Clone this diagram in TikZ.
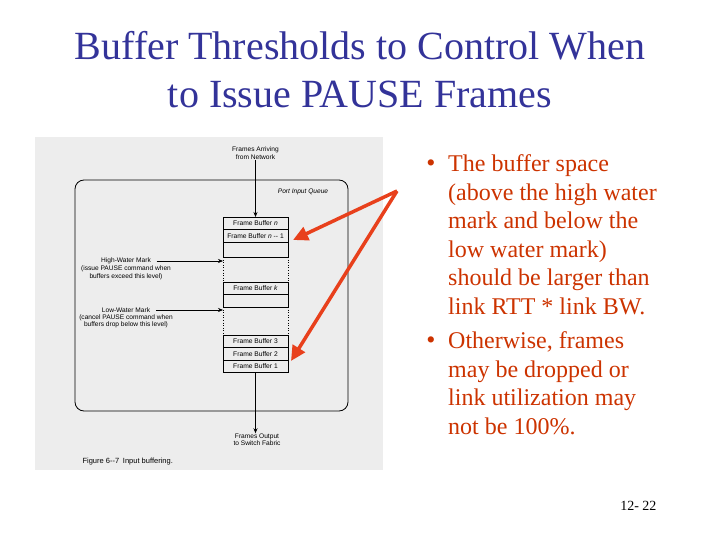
\documentclass[tikz,border=0pt]{standalone}
\usepackage{fontspec}
\setmainfont{Liberation Serif}
\newfontfamily\figsans{Liberation Sans}
\usetikzlibrary{arrows.meta,positioning}
\definecolor{titleblue}{HTML}{333399}
\definecolor{bullred}{HTML}{CC3300}
\definecolor{arrred}{HTML}{E8401C}
\definecolor{scangray}{HTML}{EDEDED}

\begin{document}
\begin{tikzpicture}[x=1pt, y=-1pt,
  buf/.style={draw, line width=0.5pt, minimum width=65pt, minimum height=12.5pt, anchor=north west,
    inner sep=0pt, outer sep=0pt, font=\figsans\fontsize{6.7}{7}\selectfont},
  lbl/.style={align=center, inner sep=0.5pt, font=\figsans\fontsize{6.6}{7.4}\selectfont},
  flow/.style={-{Stealth[length=5pt,width=4pt]}, line width=0.6pt},
  hint/.style={-{Triangle[length=15pt,width=14pt]}, line width=3.5pt, arrred},
  pts/.style={anchor=north west, inner sep=0pt, align=left, text=bullred, font=\fontsize{24}{28.6}\selectfont}]
  \useasboundingbox (0,0) rectangle (720,540);

  % title
  \node[anchor=base, font=\fontsize{40}{48}\selectfont, text=titleblue] (title1) at (360,60) {Buffer Thresholds to Control When};
  \node[anchor=base, font=\fontsize{40}{48}\selectfont, text=titleblue] (title2) at (360,108) {to Issue PAUSE Frames};

  % scanned figure
  \fill[scangray] (35,137) rectangle (383,470);
  \draw[line width=0.8pt, rounded corners=9pt] (75,180) rectangle (348,411);
  \node[lbl] (arrive) at (255.5,153) {Frames Arriving\\from Network};
  \node[lbl, font=\figsans\itshape\fontsize{6.6}{7.4}\selectfont] (queue) at (303,192) {Port Input Queue};

  \node[buf] (bn)  at (223,217)   {Frame Buffer \textit{n}};
  \node[buf] (bn1) at (223,229.5) {Frame Buffer \textit{n} -- 1};
  \node[buf, minimum height=15pt] (be1) at (223,242) {};
  \node[buf] (bk)  at (223,282)   {Frame Buffer \textit{k}};
  \node[buf] (be2) at (223,294.5) {};
  \node[buf] (b3)  at (223,335)   {Frame Buffer 3};
  \node[buf] (b2)  at (223,347.5) {Frame Buffer 2};
  \node[buf] (b1)  at (223,360)   {Frame Buffer 1};
  \draw[dotted, line width=0.6pt] (be1.south west) -- (bk.north west) (be1.south east) -- (bk.north east);
  \draw[dotted, line width=0.6pt] (be2.south west) -- (b3.north west) (be2.south east) -- (b3.north east);

  \node[lbl] (hwm) at (126,261) {High-Water Mark};
  \node[lbl, below=0.5pt of hwm] (hwmnote) {(issue PAUSE command when\\buffers exceed this level)};
  \node[lbl] (lwm) at (126,310) {Low-Water Mark};
  \node[lbl, below=0.5pt of lwm] (lwmnote) {(cancel PAUSE command when\\buffers drop below this level)};
  \node[lbl] (outp) at (257,440) {Frames Output\\to Switch Fabric};

  \draw[flow] (arrive.south) -- (bn.north);
  \draw[flow, shorten <=5pt] (hwm.east) -- (hwm.east -| bn.west);
  \draw[flow, shorten <=5pt] (lwm.east) -- (lwm.east -| bn.west);
  \draw[flow] (b1.south) -- (b1.south |- outp.north);

  \node[anchor=base west, font=\figsans\fontsize{7.5}{9}\selectfont] (cap) at (79,463) {Figure 6--7\enspace Input buffering.};

  % red pointers
  \coordinate (src) at (397,191);
  \coordinate (tipA) at (293,240);
  \coordinate (tipB) at (291,361);
  \draw[hint] (src) -- (tipA);
  \draw[hint] (src) -- (tipB);

  % bullets
  \node[text=bullred, font=\fontsize{26}{28}\selectfont] (dot1) at (431,165.5) {\textbullet};
  \node[pts] (pt1) at (448,154.5) {The buffer space\\(above the high water\\mark and below the\\low water mark)\\should be larger than\\link RTT * link BW.};
  \node[text=bullred, font=\fontsize{26}{28}\selectfont] (dot2) at (431,342.5) {\textbullet};
  \node[pts] (pt2) at (448,331.5) {Otherwise, frames\\may be dropped or\\link utilization may\\not be 100\%.};

  \node[anchor=base east, font=\fontsize{14}{16}\selectfont] (pg) at (660,510) {12- 22};
\end{tikzpicture}
\end{document}
